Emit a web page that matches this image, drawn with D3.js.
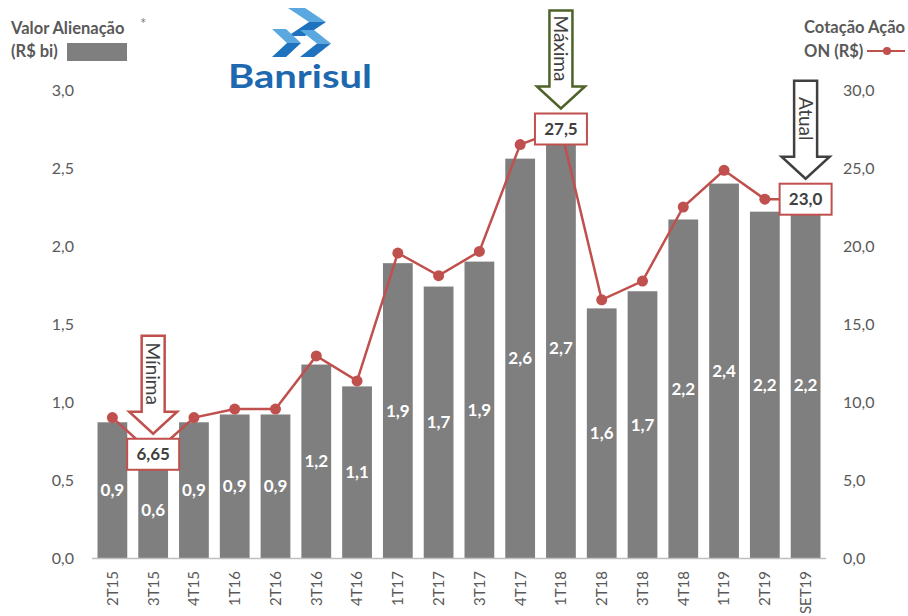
<!DOCTYPE html>
<html>
<head>
<meta charset="utf-8">
<script src="https://cdn.jsdelivr.net/npm/d3@7"></script>
<style>
    body { margin: 0; background: #fff; }
    svg { display: block; font-family: Lato, "Open Sans", sans-serif; }
</style>
</head>
<body>
<div id="chart"></div>
<script>
const categories = ['2T15', '3T15', '4T15', '1T16', '2T16', '3T16', '4T16', '1T17', '2T17',
    '3T17', '4T17', '1T18', '2T18', '3T18', '4T18', '1T19', '2T19', 'SET19'];
// valor alienação (R$ bi)
const saleValues = [0.87, 0.62, 0.87, 0.92, 0.92, 1.24, 1.10, 1.89, 1.74,
    1.90, 2.56, 2.70, 1.60, 1.71, 2.17, 2.40, 2.22, 2.22];
// cotação ação ON (R$)
const sharePrices = [9.0, 6.65, 9.0, 9.55, 9.55, 12.95, 11.35, 19.55, 18.1,
    19.65, 26.5, 27.5, 16.55, 17.75, 22.5, 24.85, 23.0, 23.0];
const leftTicks = [0, 0.5, 1, 1.5, 2, 2.5, 3];
const rightTicks = [0, 5, 10, 15, 20, 25, 30];
const callouts = [
    { cat: '3T15', label: 'Mínima', digits: 2, color: '#c0504d' },
    { cat: '1T18', label: 'Máxima', digits: 1, color: '#4f6228' },
    { cat: 'SET19', label: 'Atual', digits: 1, color: '#404040' }
];

const config = {
    width: 908,
    height: 616,
    plot: { left: 92, right: 826, top: 90, bottom: 558 },
    barColor: '#7f7f7f',
    lineColor: '#c0504d',
    textColor: '#595959'
};

const ptBR = d3.formatLocale({ decimal: ',', thousands: '.', grouping: [3], currency: ['R$', ''] });
const fmt1 = ptBR.format('.1f');

const svg = d3.select('#chart').append('svg')
    .attr('width', config.width)
    .attr('height', config.height);

const x = d3.scaleBand()
    .domain(categories)
    .range([config.plot.left, config.plot.right])
    .paddingInner(0.27)
    .paddingOuter(0.135);
const yLeft = d3.scaleLinear().domain([0, 3]).range([config.plot.bottom, config.plot.top]);
const yRight = d3.scaleLinear().domain([0, 30]).range([config.plot.bottom, config.plot.top]);
const cx = c => x(c) + x.bandwidth() / 2;

const rows = categories.map((c, i) => ({ cat: c, sale: saleValues[i], price: sharePrices[i] }));

// bars
svg.append('g').selectAll('rect')
        .data(rows)
    .enter().append('rect')
        .attr('x', d => x(d.cat))
        .attr('y', d => yLeft(d.sale))
        .attr('width', x.bandwidth())
        .attr('height', d => yLeft(0) - yLeft(d.sale))
        .attr('fill', config.barColor);

// base line
svg.append('line')
    .attr('x1', config.plot.left).attr('x2', config.plot.right)
    .attr('y1', config.plot.bottom + 0.5).attr('y2', config.plot.bottom + 0.5)
    .attr('stroke', '#bfbfbf').attr('stroke-width', 1.5);

// left axis
const leftAxis = svg.append('g')
    .attr('transform', 'translate(' + config.plot.left + ',0)')
    .call(d3.axisLeft(yLeft).tickValues(leftTicks).tickFormat(fmt1).tickSize(0).tickPadding(18));
// right axis
const rightAxis = svg.append('g')
    .attr('transform', 'translate(' + config.plot.right + ',0)')
    .call(d3.axisRight(yRight).tickValues(rightTicks).tickFormat(fmt1).tickSize(0).tickPadding(17));
[leftAxis, rightAxis].forEach(a => {
    a.select('.domain').remove();
    a.selectAll('text')
        .attr('font-family', 'Lato, sans-serif')
        .attr('font-size', 16)
        .attr('fill', config.textColor);
});

// x labels
svg.append('g').selectAll('text')
        .data(categories)
    .enter().append('text')
        .attr('transform', d => 'translate(' + cx(d) + ',571) rotate(-90)')
        .attr('dy', '0.36em')
        .attr('text-anchor', 'end')
        .attr('font-size', 15)
        .attr('fill', config.textColor)
        .text(d => d);

// price line
const line = d3.line()
    .x(d => cx(d.cat))
    .y(d => yRight(d.price));
svg.append('path')
    .datum(rows)
    .attr('d', line)
    .attr('fill', 'none')
    .attr('stroke', config.lineColor)
    .attr('stroke-width', 2.5);
svg.append('g').selectAll('circle')
        .data(rows)
    .enter().append('circle')
        .attr('cx', d => cx(d.cat))
        .attr('cy', d => yRight(d.price))
        .attr('r', 5.5)
        .attr('fill', config.lineColor);

// bar value labels
svg.append('g').selectAll('text')
        .data(rows)
    .enter().append('text')
        .attr('x', d => cx(d.cat))
        .attr('y', d => (yLeft(d.sale) + yLeft(0)) / 2)
        .attr('dy', '0.36em')
        .attr('text-anchor', 'middle')
        .attr('font-size', 17)
        .attr('font-weight', 'bold')
        .attr('fill', '#fff')
        .text(d => fmt1(d.sale));

// callouts: boxed price + arrow
callouts.forEach(c => {
    const i = categories.indexOf(c.cat);
    const px = cx(c.cat);
    const py = yRight(sharePrices[i]);
    const boxW = 52, boxH = 31;
    const g = svg.append('g');
    g.append('rect')
        .attr('x', px - boxW / 2)
        .attr('y', py - boxH / 2)
        .attr('width', boxW)
        .attr('height', boxH)
        .attr('fill', '#fff')
        .attr('stroke', config.lineColor)
        .attr('stroke-width', 2);
    g.append('text')
        .attr('x', px)
        .attr('y', py)
        .attr('dy', '0.36em')
        .attr('text-anchor', 'middle')
        .attr('font-size', 17)
        .attr('font-weight', 'bold')
        .attr('fill', '#404040')
        .text(ptBR.format('.' + c.digits + 'f')(sharePrices[i]));

    const tip = py - boxH / 2 - 5;
    const top = tip - 98;
    const sw = 11.5, hw = 24, hh = 22;
    const arrowPath = [
        [px - sw, top], [px + sw, top], [px + sw, tip - hh], [px + hw, tip - hh],
        [px, tip], [px - hw, tip - hh], [px - sw, tip - hh]
    ];
    g.append('path')
        .attr('d', 'M' + arrowPath.join('L') + 'Z')
        .attr('fill', '#fff')
        .attr('stroke', c.color)
        .attr('stroke-width', 2.5)
        .attr('stroke-linejoin', 'miter');
    g.append('text')
        .attr('transform', 'translate(' + px + ',' + (top + (98 - hh) / 2) + ') rotate(90)')
        .attr('dy', '0.36em')
        .attr('text-anchor', 'middle')
        .attr('font-size', 19)
        .attr('fill', '#404040')
        .text(c.label);
});

// legends
const legend = svg.append('g')
    .attr('font-size', 16.5)
    .attr('font-weight', 'bold')
    .attr('fill', config.textColor);
legend.append('text').attr('x', 11).attr('y', 34).text('Valor Alienação');
legend.append('text').attr('x', 11).attr('y', 57).text('(R$ bi)');
legend.append('text').attr('x', 140).attr('y', 29)
    .attr('font-size', 15).attr('font-weight', 'normal').attr('fill', '#7f7f7f').text('*');
legend.append('rect')
    .attr('x', 67).attr('y', 43).attr('width', 60).attr('height', 18)
    .attr('fill', config.barColor);
const priceTitle = legend.append('text')
    .attr('x', 905).attr('y', 33)
    .attr('text-anchor', 'end')
    .text('Cotação Ação');
const titleStart = 905 - priceTitle.node().getComputedTextLength();
legend.append('text').attr('x', titleStart).attr('y', 57).text('ON (R$)');
legend.append('line')
    .attr('x1', 867).attr('x2', 905).attr('y1', 51).attr('y2', 51)
    .attr('stroke', config.lineColor).attr('stroke-width', 2);
legend.append('circle')
    .attr('cx', 887).attr('cy', 51).attr('r', 4)
    .attr('fill', config.lineColor);

// Banrisul logo
const logo = svg.append('g');
const chevron = (x0, y0, w, h, t) => {
    logo.append('path')
        .attr('d', 'M' + [[x0, y0], [x0 + t, y0], [x0 + w, y0 + h / 2], [x0 + w - t, y0 + h / 2]].join('L') + 'Z')
        .attr('fill', '#5aa8e0');
    logo.append('path')
        .attr('d', 'M' + [[x0 + w - t, y0 + h / 2], [x0 + w, y0 + h / 2], [x0 + t, y0 + h], [x0, y0 + h]].join('L') + 'Z')
        .attr('fill', '#1f72bd');
};
chevron(288, 8, 38, 28, 17);
chevron(272, 29, 29, 28, 14);
chevron(300, 30, 31, 27, 14);
logo.append('text')
    .attr('x', 228)
    .attr('y', 88)
    .attr('textLength', 144)
    .attr('lengthAdjust', 'spacingAndGlyphs')
    .attr('font-size', 33)
    .attr('font-weight', 'bold')
    .attr('fill', '#1d68ae')
    .text('Banrisul');
</script>
</body>
</html>
